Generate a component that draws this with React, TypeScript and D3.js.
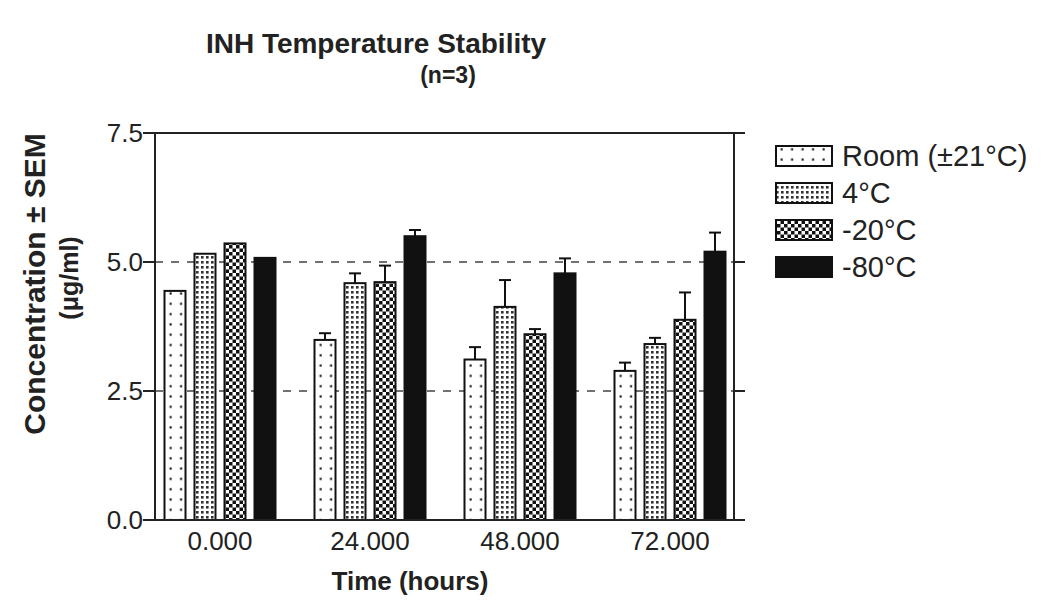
import React from "react";
import * as d3 from "d3";

const times = ["0.000", "24.000", "48.000", "72.000"];
const seriesNames = ["Room (±21°C)", "4°C", "-20°C", "-80°C"];
const seriesKeys = ["room", "c4", "m20", "m80"];
const roomMean = [4.44, 3.49, 3.11, 2.89];
const roomSem = [0, 0.13, 0.24, 0.16];
const c4Mean = [5.16, 4.59, 4.13, 3.41];
const c4Sem = [0, 0.19, 0.52, 0.12];
const m20Mean = [5.36, 4.61, 3.6, 3.88];
const m20Sem = [0, 0.32, 0.1, 0.53];
const m80Mean = [5.08, 5.5, 4.78, 5.2];
const m80Sem = [0, 0.12, 0.29, 0.37];
const yTicks = [0, 2.5, 5.0, 7.5];
const gridValues = [2.5, 5.0];

const means = [roomMean, c4Mean, m20Mean, m80Mean];
const sems = [roomSem, c4Sem, m20Sem, m80Sem];

const FONT = "'Liberation Sans', Arial, Helvetica, sans-serif";

export default function App() {
  const left = 155;
  const right = 734;
  const top = 133;
  const bottom = 520;
  const x0 = d3.scaleBand<string>().domain(times).range([145, 745]).padding(0);
  const x1 = d3
    .scaleBand<string>()
    .domain(seriesKeys)
    .range([x0.bandwidth() / 2 - 60, x0.bandwidth() / 2 + 60])
    .paddingInner(0.3)
    .paddingOuter(0.15);
  const y = d3.scaleLinear().domain([0, 7.5]).range([bottom, top]);
  const fills = ["url(#pRoom)", "url(#p4)", "url(#p20)", "#111"];

  return (
    <svg
      width={1046}
      height={600}
      style={{ position: "absolute", left: 0, top: 0, display: "block", background: "#fff" }}
      fontFamily={FONT}
    >
      <defs>
        <pattern id="pRoom" patternUnits="userSpaceOnUse" width={10.5} height={10.3}>
          <rect width={10.5} height={10.3} fill="#fff" />
          <rect x={3.5} y={4} width={2.2} height={2.2} fill="#222" />
        </pattern>
        <pattern id="p4" patternUnits="userSpaceOnUse" width={5} height={5}>
          <rect width={5} height={5} fill="#fff" />
          <rect x={1} y={1} width={2.6} height={2.6} fill="#333" />
        </pattern>
        <pattern id="p20" patternUnits="userSpaceOnUse" width={7} height={7}>
          <rect width={7} height={7} fill="#fff" />
          <rect x={0} y={0} width={3.5} height={3.5} fill="#111" />
          <rect x={3.5} y={3.5} width={3.5} height={3.5} fill="#111" />
        </pattern>
      </defs>

      {/* title */}
      <text x={376} y={53} textAnchor="middle" fontSize={28} fontWeight="bold" fill="#222">
        INH Temperature Stability
      </text>
      <text x={448} y={83} textAnchor="middle" fontSize={23} fontWeight="bold" fill="#222">
        (n=3)
      </text>

      {/* grid */}
      {gridValues.map((v) => (
        <line key={v} x1={left} x2={right} y1={y(v)} y2={y(v)} stroke="#444" strokeWidth={1.5} strokeDasharray="8,8" />
      ))}

      {/* bars */}
      {times.map((t, i) => (
        <g key={t} transform={`translate(${x0(t)},0)`}>
          {seriesKeys.map((k, j) => {
            const bx = x1(k)!;
            const bw = x1.bandwidth();
            const v = means[j][i];
            const e = sems[j][i];
            const cx = bx + bw / 2;
            return (
              <g key={k}>
                {e > 0 && (
                  <g stroke="#111" strokeWidth={2}>
                    <line x1={cx} x2={cx} y1={y(v)} y2={y(v + e)} />
                    <line x1={cx - 6} x2={cx + 6} y1={y(v + e)} y2={y(v + e)} />
                  </g>
                )}
                <rect x={bx} y={y(v)} width={bw} height={y(0) - y(v)} fill={fills[j]} stroke="#111" strokeWidth={2} />
              </g>
            );
          })}
        </g>
      ))}

      {/* frame */}
      <g stroke="#222" strokeWidth={2}>
        <line x1={left} x2={left} y1={top} y2={bottom} />
        <line x1={right} x2={right} y1={top} y2={bottom} />
        <line x1={143} x2={745} y1={top} y2={top} />
        <line x1={143} x2={745} y1={bottom} y2={bottom} />
        {yTicks.map((v) => (
          <g key={v}>
            <line x1={143} x2={left} y1={y(v)} y2={y(v)} />
            <line x1={right} x2={745} y1={y(v)} y2={y(v)} />
          </g>
        ))}
      </g>

      {/* y tick labels */}
      {yTicks.map((v) => (
        <text key={v} x={143} y={y(v) + 9} textAnchor="end" fontSize={26} fill="#222">
          {v.toFixed(1)}
        </text>
      ))}

      {/* x tick labels */}
      {times.map((t) => (
        <text key={t} x={x0(t)! + x0.bandwidth() / 2} y={550} textAnchor="middle" fontSize={26} fill="#222">
          {t}
        </text>
      ))}

      {/* axis titles */}
      <text x={410} y={590} textAnchor="middle" fontSize={26} fontWeight="bold" fill="#222">
        Time (hours)
      </text>
      <text transform="translate(45,284) rotate(-90)" textAnchor="middle" fontSize={30} fontWeight="bold" fill="#222">
        Concentration ± SEM
      </text>
      <text transform="translate(78,278) rotate(-90)" textAnchor="middle" fontSize={25} fontWeight="bold" fill="#222">
        (μg/ml)
      </text>

      {/* legend */}
      {seriesNames.map((n, j) => {
        const cy = 156 + j * 37;
        return (
          <g key={n}>
            <rect x={776} y={cy - 10} width={56} height={20} fill={fills[j]} stroke="#111" strokeWidth={2} />
            <text x={842} y={cy + 10} fontSize={29} fill="#222">
              {n}
            </text>
          </g>
        );
      })}
    </svg>
  );
}
